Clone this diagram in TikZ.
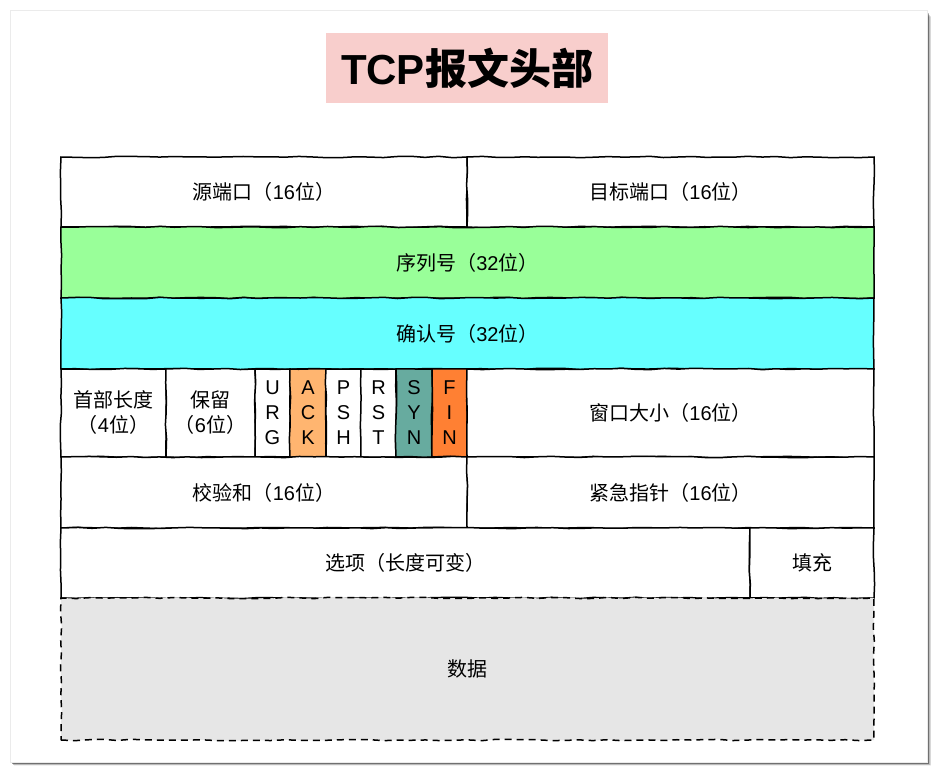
\documentclass[tikz,border=0pt]{standalone}
\usepackage{fontspec}
\setmainfont{Liberation Sans}
\newfontfamily\cjkfont{Noto Sans CJK SC}
\newcommand\zh[1]{{\cjkfont #1}}
\usetikzlibrary{decorations.pathmorphing}
\definecolor{titlepink}{HTML}{F8CECC}
\definecolor{seqgreen}{HTML}{99FF99}
\definecolor{ackcyan}{HTML}{66FFFF}
\definecolor{ackorange}{HTML}{FFB570}
\definecolor{synteal}{HTML}{67AB9F}
\definecolor{finorange}{HTML}{FF8033}
\definecolor{datagray}{HTML}{E6E6E6}
\tikzset{
  sketch/.style={decorate,decoration={random steps,segment length=14pt,amplitude=0.7pt}},
  cell/.style={draw=black, line width=1.5pt, fill=white, inner sep=0pt, outer sep=0pt,
    align=center, font=\fontsize{20}{25}\selectfont, sketch},
  flag/.style={cell, minimum height=88pt},
  datacell/.style={cell, fill=datagray, dash pattern=on 7pt off 5pt},
  titlebox/.style={fill=titlepink, inner sep=0pt, minimum width=282pt, minimum height=70pt,
    font=\fontsize{42}{46}\selectfont\bfseries}
}
\begin{document}
\begin{tikzpicture}[x=1pt,y=-1pt]
\pgfmathsetseed{7}
\useasboundingbox (0,0) rectangle (938,774);
% card with shadow
\foreach \o/\a in {7/0.06,6/0.1,5/0.14,4/0.2,3/0.25}{
  \fill[black,opacity=\a] (10+\o*0.5,10+\o) rectangle (927+\o*0.6,762+\o*0.5);
}
\fill[white] (10,10) rectangle (927,762);
\draw[black!8,line width=0.6pt] (10,10) rectangle (927,762);
% title
\node[titlebox] (title) at (467,68) {TCP\zh{报文头部}};
% row 1
\node[cell, minimum width=406pt, minimum height=70pt] (src) at (264,192) {\zh{源端口（}16\zh{位）}};
\node[cell, minimum width=407pt, minimum height=70pt] (dst) at (670.5,192) {\zh{目标端口（}16\zh{位）}};
% row 2
\node[cell, fill=seqgreen, minimum width=813pt, minimum height=71pt] (seq) at (467.5,262.5) {\zh{序列号（}32\zh{位）}};
% row 3
\node[cell, fill=ackcyan, minimum width=813pt, minimum height=71pt] (ackn) at (467.5,333.5) {\zh{确认号（}32\zh{位）}};
% row 4
\node[flag, minimum width=105pt] (hlen) at (113.5,413) {\zh{首部长度}\\\zh{（}4\zh{位）}};
\node[flag, minimum width=89pt] (rsv) at (210.5,413) {\zh{保留}\\\zh{（}6\zh{位）}};
\node[flag, minimum width=35pt] (urg) at (272.5,413) {U\\R\\G};
\node[flag, fill=ackorange, minimum width=36pt] (ack) at (308,413) {A\\C\\K};
\node[flag, minimum width=35pt] (psh) at (343.5,413) {P\\S\\H};
\node[flag, minimum width=35pt] (rst) at (378.5,413) {R\\S\\T};
\node[flag, fill=synteal, minimum width=36pt] (syn) at (414,413) {S\\Y\\N};
\node[flag, fill=finorange, minimum width=35pt] (fin) at (449.5,413) {F\\I\\N};
\node[flag, minimum width=407pt] (win) at (670.5,413) {\zh{窗口大小（}16\zh{位）}};
% row 5
\node[cell, minimum width=406pt, minimum height=71pt] (csum) at (264,492.5) {\zh{校验和（}16\zh{位）}};
\node[cell, minimum width=407pt, minimum height=71pt] (urgp) at (670.5,492.5) {\zh{紧急指针（}16\zh{位）}};
% row 6
\node[cell, minimum width=689pt, minimum height=70pt] (opt) at (405.5,563) {\zh{选项（长度可变）}};
\node[cell, minimum width=124pt, minimum height=70pt] (pad) at (812,563) {\zh{填充}};
% data
\node[datacell, minimum width=813pt, minimum height=142pt] (data) at (467.5,669) {\zh{数据}};
\end{tikzpicture}
\end{document}
